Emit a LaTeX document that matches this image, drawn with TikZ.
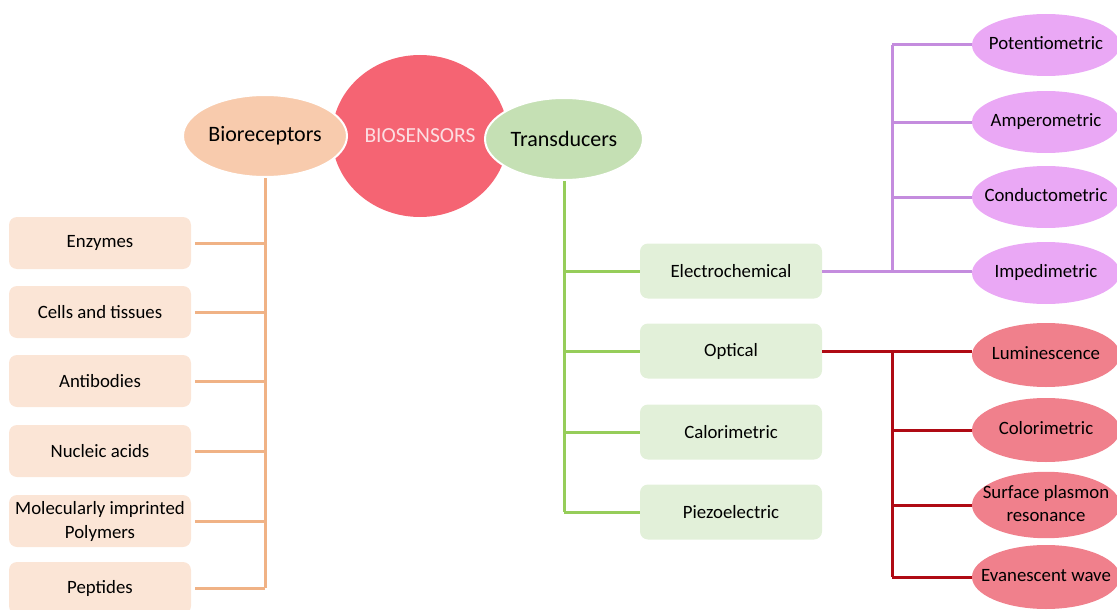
\documentclass[tikz,border=0pt]{standalone}
\usepackage{fontspec}
\setmainfont{Carlito}
\usetikzlibrary{shapes.geometric,positioning}

\definecolor{coreRed}{RGB}{245,100,115}
\definecolor{coreText}{RGB}{252,222,226}
\definecolor{peachDark}{RGB}{248,203,173}
\definecolor{peachLight}{RGB}{251,229,214}
\definecolor{peachLine}{RGB}{240,178,133}
\definecolor{greenDark}{RGB}{197,224,180}
\definecolor{greenLight}{RGB}{226,240,217}
\definecolor{greenLine}{RGB}{150,205,90}
\definecolor{lilac}{RGB}{234,168,245}
\definecolor{lilacLine}{RGB}{196,140,222}
\definecolor{rose}{RGB}{240,128,140}
\definecolor{roseLine}{RGB}{175,10,20}

% text that does not widen its oval
\newcommand{\ovaltext}[1]{\makebox[0pt]{\begin{tabular}{@{}c@{}}#1\end{tabular}}}

\tikzset{
    peachbox/.style={rectangle, rounded corners=8pt, fill=peachLight, minimum width=182pt, minimum height=52pt, align=center},
    greenbox/.style={rectangle, rounded corners=8pt, fill=greenLight, minimum width=182pt, minimum height=55pt, align=center},
    lilacoval/.style={ellipse, fill=lilac, minimum width=148pt, minimum height=62pt, inner sep=0pt},
    roseoval/.style={ellipse, fill=rose, minimum width=148pt, minimum height=64pt, inner sep=0pt},
    headoval/.style={ellipse, draw=white, line width=2pt, minimum width=160pt, minimum height=82pt, inner sep=0pt, font=\fontsize{22}{26}\selectfont},
    link/.style={line width=3pt}
}

\begin{document}
\begin{tikzpicture}[x=1pt, y=-1pt, font=\fontsize{18.8}{24}\selectfont]
        \useasboundingbox (0,0) rectangle (1117,610);
        \clip (0,0) rectangle (1117,610);

        \node (core) [ellipse, fill=coreRed, minimum width=176pt, minimum height=162pt, inner sep=0pt, text=coreText, font=\fontsize{21.5}{24}\selectfont] at (420,136) {BIOSENSORS};
        \node (biorec) [headoval, fill=peachDark, minimum width=164pt] at (265,136) {Bioreceptors};
        \node (trans) [headoval, fill=greenDark, minimum width=158pt] at (564,139) {Transducers};

        % bioreceptors
        \node (enz) [peachbox] at (100,243) {Enzymes};
        \node (cells) [peachbox, node distance=69pt, below of=enz] {Cells and tissues};
        \node (anti) [peachbox, node distance=69pt, below of=cells] {Antibodies};
        \node (nucl) [peachbox, node distance=70pt, below of=anti] {Nucleic acids};
        \node (mip) [peachbox, node distance=70pt, below of=nucl] {Molecularly imprinted\\Polymers};
        \node (pept) [peachbox, node distance=67pt, below of=mip] {Peptides};

        % transducers
        \node (elec) [greenbox] at (731,271) {Electrochemical};
        \node (opt) [greenbox, node distance=80pt, below of=elec] {Optical};
        \node (cal) [greenbox, node distance=81pt, below of=opt] {Calorimetric};
        \node (piezo) [greenbox, node distance=80pt, below of=cal] {Piezoelectric};

        \node (pot) [lilacoval] at (1046,45) {\ovaltext{Potentiometric}};
        \node (amp) [lilacoval, node distance=77pt, below of=pot] {\ovaltext{Amperometric}};
        \node (cond) [lilacoval, node distance=75pt, below of=amp] {\ovaltext{Conductometric}};
        \node (imp) [lilacoval, node distance=76pt, below of=cond] {\ovaltext{Impedimetric}};

        \node (lum) [roseoval] at (1046,355) {\ovaltext{Luminescence}};
        \node (col) [roseoval, node distance=75pt, below of=lum] {\ovaltext{Colorimetric}};
        \node (spr) [roseoval, node distance=75pt, below of=col] {\ovaltext{Surface plasmon\\[-1pt]resonance}};
        \node (eva) [roseoval, node distance=72pt, below of=spr] {\ovaltext{Evanescent wave}};

        \coordinate (lilacbus) at (892,0);
        \coordinate (rosebus) at (892,0);

        \path[draw=peachLine, link]
            (biorec.south) -- (biorec.south |- pept.east)
            (enz.east) edge [shorten <=4pt] (biorec.south |- enz.east)
            (cells.east) edge [shorten <=4pt] (biorec.south |- cells.east)
            (anti.east) edge [shorten <=4pt] (biorec.south |- anti.east)
            (nucl.east) edge [shorten <=4pt] (biorec.south |- nucl.east)
            (mip.east) edge [shorten <=4pt] (biorec.south |- mip.east)
            (pept.east) edge [shorten <=4pt] (biorec.south |- pept.east)
        ;

        \path[draw=greenLine, link]
            (trans.south) -- (trans.south |- piezo.west)
            (trans.south |- elec.west) edge (elec.west)
            (trans.south |- opt.west) edge (opt.west)
            (trans.south |- cal.west) edge (cal.west)
            (trans.south |- piezo.west) edge (piezo.west)
        ;

        \path[draw=lilacLine, link]
            (lilacbus |- pot.west) -- (lilacbus |- elec.east)
            (elec.east) edge (elec.east -| imp.west)
            (lilacbus |- pot.west) edge (pot.west)
            (lilacbus |- amp.west) edge (amp.west)
            (lilacbus |- cond.west) edge (cond.west)
        ;

        \path[draw=roseLine, link]
            (rosebus |- opt.east) -- (rosebus |- eva.west)
            (opt.east) edge (opt.east -| lum.west)
            (rosebus |- col.west) edge (col.west)
            (rosebus |- spr.west) edge (spr.west)
            (rosebus |- eva.west) edge (eva.west)
        ;
    \end{tikzpicture}
\end{document}
